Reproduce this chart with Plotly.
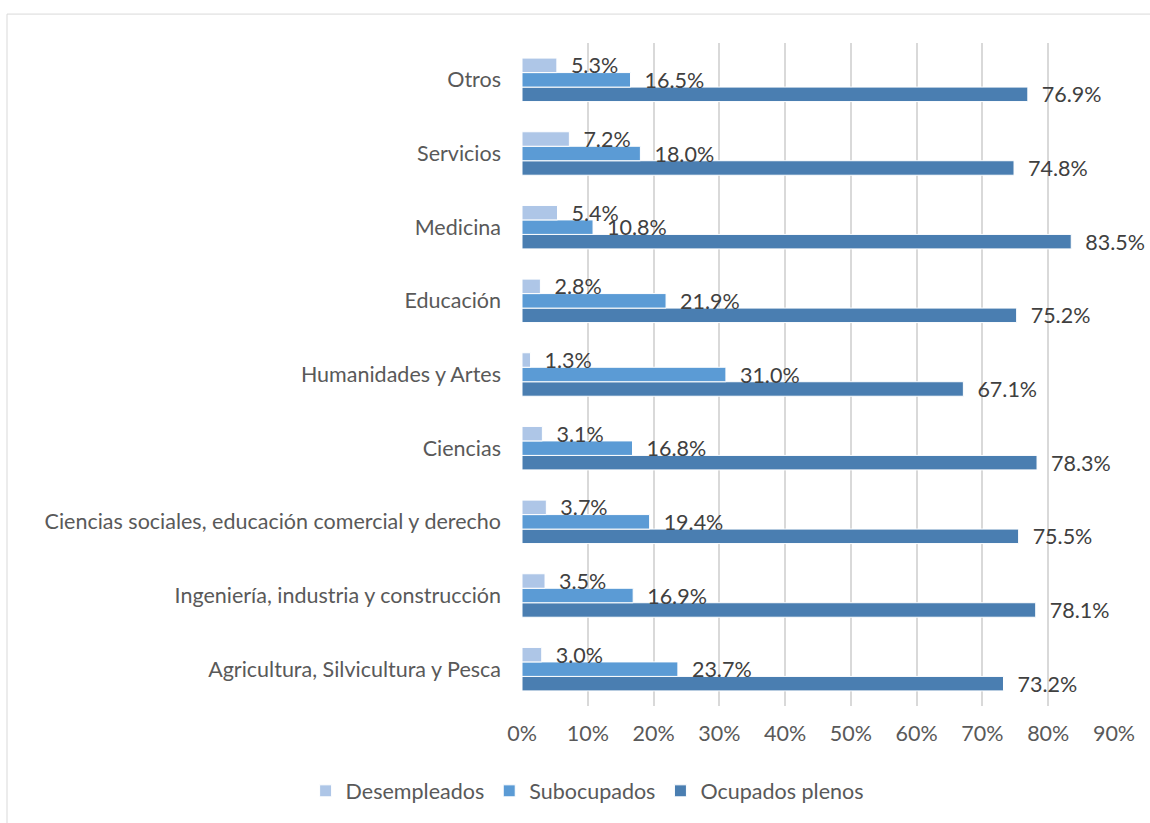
import plotly.graph_objects as go

categories = [
    "Agricultura, Silvicultura y Pesca",
    "Ingeniería, industria y construcción",
    "Ciencias sociales, educación comercial y derecho",
    "Ciencias",
    "Humanidades y Artes",
    "Educación",
    "Medicina",
    "Servicios",
    "Otros",
]
desempleados = [3.0, 3.5, 3.7, 3.1, 1.3, 2.8, 5.4, 7.2, 5.3]
subocupados = [23.7, 16.9, 19.4, 16.8, 31.0, 21.9, 10.8, 18.0, 16.5]
ocupados_plenos = [73.2, 78.1, 75.5, 78.3, 67.1, 75.2, 83.5, 74.8, 76.9]
tick_values = [0, 10, 20, 30, 40, 50, 60, 70, 80, 90]
tick_labels = [f"{v}%" for v in tick_values]

FONT = "Lato"
SIZE = 21.5
series = [
    ("Ocupados plenos", ocupados_plenos, "#4A7EB1"),
    ("Subocupados", subocupados, "#5B9BD5"),
    ("Desempleados", desempleados, "#AEC6E7"),
]

fig = go.Figure()
for name, vals, color in series:
    fig.add_trace(go.Bar(
        name=name, y=categories, x=vals, orientation="h",
        marker=dict(color=color, line=dict(color="white", width=1)),
        texttemplate="\u00a0\u00a0%{x:.1f}%", textposition="outside",
        textfont=dict(family=FONT, size=SIZE, color="#404040"),
        constraintext="none", cliponaxis=False,
    ))

fig.update_layout(
    width=1150, height=823,
    margin=dict(l=522, r=36, t=43, b=115),
    barmode="group", bargap=0.41, bargroupgap=0,
    plot_bgcolor="white", paper_bgcolor="white",
    font=dict(family=FONT, size=SIZE, color="#595959"),
    legend=dict(orientation="h", traceorder="reversed",
                x=0.11, xanchor="center", y=-0.128, yanchor="middle",
                font=dict(family=FONT, size=SIZE, color="#595959")),
    xaxis=dict(range=[0, 90], tickvals=tick_values, ticktext=tick_labels,
               showgrid=True, gridcolor="#D9D9D9", gridwidth=2,
               zeroline=False, showline=False, ticklabelstandoff=12,
               fixedrange=True),
    yaxis=dict(showgrid=False, zeroline=False, showline=False,
               ticklabelstandoff=20, fixedrange=True),
    shapes=[dict(type="rect", xref="paper", yref="paper",
                 x0=(7 - 522) / 592, x1=(1170 - 522) / 592,
                 y0=(708 - 840) / 665, y1=(708 - 14) / 665,
                 line=dict(color="#D9D9D9", width=1), layer="below")],
)

fig.write_html("out.html")
